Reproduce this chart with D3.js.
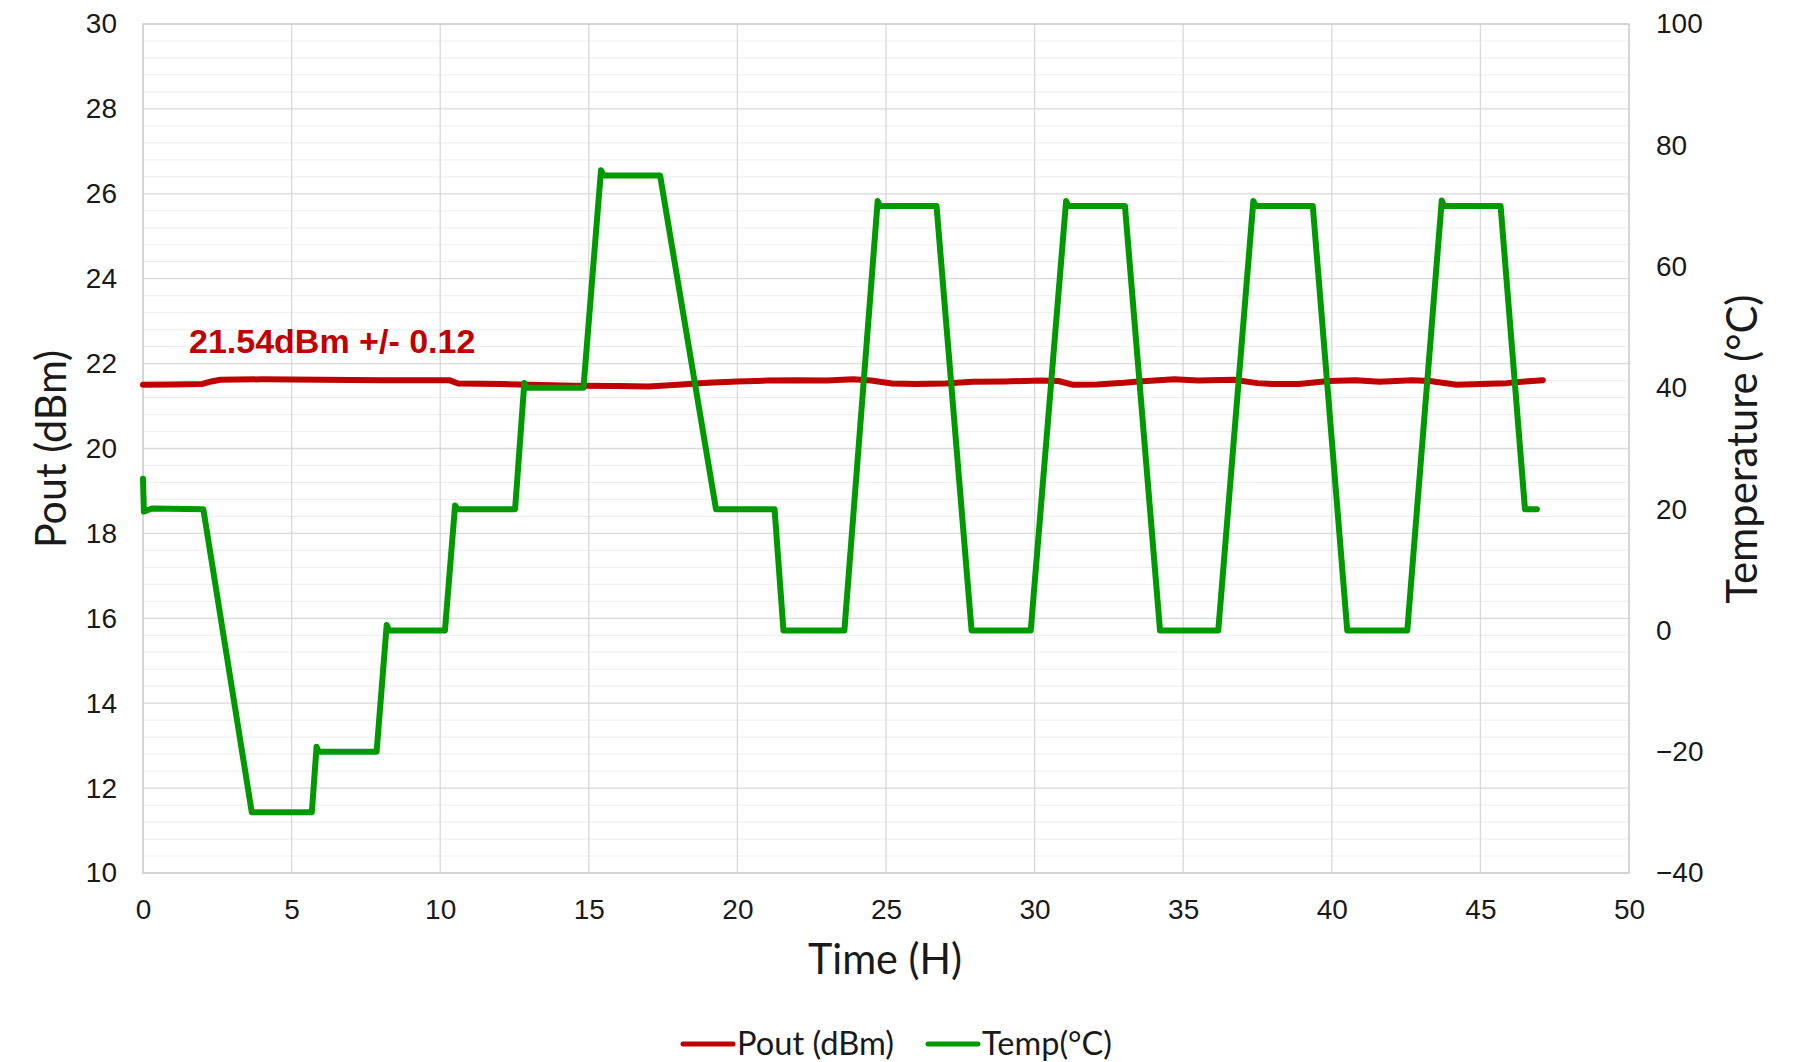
<!DOCTYPE html>
<html>
<head>
<meta charset="utf-8">
<script src="https://cdn.jsdelivr.net/npm/d3@7"></script>
<style>
  html, body { margin: 0; padding: 0; background: #fff; }
  svg { display: block; }
</style>
</head>
<body>
<svg id="chart" width="1795" height="1062"></svg>
<script>
// ---- Data ----
const xTicks = [0, 5, 10, 15, 20, 25, 30, 35, 40, 45, 50];
const leftTicks = [10, 12, 14, 16, 18, 20, 22, 24, 26, 28, 30];
const rightTicks = [-40, -20, 0, 20, 40, 60, 80, 100];

// Temperature (°C) vs time (H)
const tempTime = [0, 0.03, 0.3, 2.03, 3.66, 5.68, 5.84, 5.92, 7.86, 8.2, 8.28, 10.16, 10.5, 10.58, 12.52, 12.83, 12.9, 14.82, 15.41, 15.5, 17.4, 19.28, 21.25, 21.55, 23.6, 24.72, 24.8, 26.7, 27.88, 29.87, 31.06, 31.14, 33.04, 34.22, 36.18, 37.36, 37.44, 39.36, 40.52, 42.54, 43.7, 43.78, 45.68, 46.5, 46.9];
const tempVal  = [25, 19.6, 20.1, 20, -30, -30, -19.2, -20, -20, 0.9, 0, 0, 20.6, 20, 20, 40.8, 40, 40, 75.9, 75, 75, 20, 20, 0, 0, 70.8, 70, 70, 0, 0, 70.8, 70, 70, 0, 0, 70.8, 70, 70, 0, 0, 70.9, 70, 70, 20, 20];

// Pout (dBm) vs time (H)
const poutTime = [0, 1.0, 2.0, 2.3, 2.6, 4, 6, 8, 10.3, 10.6, 12, 13, 14.5, 16, 17, 18, 19, 20, 21, 22, 23, 23.9, 24.5, 25.2, 26, 27, 27.9, 29, 30.2, 30.8, 31.3, 32.1, 33, 33.5, 34.7, 35.5, 36.7, 37.5, 38, 38.9, 39.9, 40.8, 41.6, 42.7, 43.3, 44.2, 45, 45.9, 46.5, 47.1];
const poutVal  = [21.50, 21.51, 21.52, 21.58, 21.62, 21.63, 21.62, 21.61, 21.61, 21.53, 21.52, 21.50, 21.48, 21.47, 21.46, 21.50, 21.55, 21.58, 21.60, 21.61, 21.60, 21.63, 21.60, 21.53, 21.52, 21.53, 21.57, 21.58, 21.60, 21.59, 21.50, 21.51, 21.55, 21.58, 21.63, 21.60, 21.62, 21.54, 21.52, 21.52, 21.59, 21.61, 21.57, 21.61, 21.59, 21.50, 21.52, 21.54, 21.58, 21.61];

const annotation = "21.54dBm +/- 0.12";
const seriesNames = ["Pout (dBm)", "Temp(°C)"];

// ---- Layout ----
const svg = d3.select("#chart");
const L = 143, R = 1629, T = 24, B = 873;
const x = d3.scaleLinear().domain([0, 50]).range([L, R]);
const yL = d3.scaleLinear().domain([10, 30]).range([B, T]);
const yR = d3.scaleLinear().domain([-40, 100]).range([B, T]);

const RED = "#c00000", GREEN = "#009900";
const tickFont = "'Liberation Sans', Arial, sans-serif";
const titleFont = "Lato, 'Open Sans', sans-serif";

// Minor horizontal gridlines (every 0.4 dBm)
const minor = d3.range(10, 30.0001, 0.4).filter(v => Math.abs(v/2 - Math.round(v/2)) > 1e-6);
svg.append("g").selectAll("line").data(minor).join("line")
  .attr("x1", L).attr("x2", R)
  .attr("y1", d => yL(d)).attr("y2", d => yL(d))
  .attr("stroke", "#f0f0f0").attr("stroke-width", 1.2);

// Major horizontal gridlines
svg.append("g").selectAll("line").data(leftTicks).join("line")
  .attr("x1", L).attr("x2", R)
  .attr("y1", d => yL(d)).attr("y2", d => yL(d))
  .attr("stroke", "#d9d9d9").attr("stroke-width", 1.3);

// Vertical gridlines
svg.append("g").selectAll("line").data(xTicks).join("line")
  .attr("x1", d => x(d)).attr("x2", d => x(d))
  .attr("y1", T).attr("y2", B)
  .attr("stroke", "#d9d9d9").attr("stroke-width", 1.3);

// Plot border
svg.append("rect").attr("x", L).attr("y", T).attr("width", R - L).attr("height", B - T)
  .attr("fill", "none").attr("stroke", "#d0d0d0").attr("stroke-width", 1.5);

// Axes (labels only)
function styleAxis(g) {
  g.select(".domain").remove();
  g.selectAll(".tick line").remove();
  g.selectAll(".tick text").attr("font-family", tickFont).attr("font-size", 28).attr("fill", "#1a1a1a");
}
svg.append("g").attr("transform", `translate(${L},0)`)
  .call(d3.axisLeft(yL).tickValues(leftTicks).tickSize(0).tickPadding(26).tickFormat(d3.format("d")))
  .call(styleAxis);
svg.append("g").attr("transform", `translate(${R},0)`)
  .call(d3.axisRight(yR).tickValues(rightTicks).tickSize(0).tickPadding(27).tickFormat(d3.format("d")))
  .call(styleAxis);
svg.append("g").attr("transform", `translate(0,${B})`)
  .call(d3.axisBottom(x).tickValues(xTicks).tickSize(0).tickPadding(26).tickFormat(d3.format("d")))
  .call(styleAxis);

// Lines
const tempData = tempTime.map((t, i) => [t, tempVal[i]]);
const poutData = poutTime.map((t, i) => [t, poutVal[i]]);

svg.append("path").datum(poutData)
  .attr("fill", "none").attr("stroke", RED).attr("stroke-width", 6)
  .attr("stroke-linejoin", "round").attr("stroke-linecap", "round")
  .attr("d", d3.line().x(d => x(d[0])).y(d => yL(d[1])));

svg.append("path").datum(tempData)
  .attr("fill", "none").attr("stroke", GREEN).attr("stroke-width", 6)
  .attr("stroke-linejoin", "round").attr("stroke-linecap", "round")
  .attr("d", d3.line().x(d => x(d[0])).y(d => yR(d[1])));

// Annotation
svg.append("text").attr("x", 189).attr("y", 353)
  .attr("font-family", tickFont).attr("font-weight", "bold").attr("font-size", 34)
  .attr("fill", RED).text(annotation);

// Axis titles
function fitText(sel, w) { sel.attr("textLength", w).attr("lengthAdjust", "spacingAndGlyphs"); }
svg.append("text").attr("transform", "translate(66,449) rotate(-90)")
  .attr("text-anchor", "middle").attr("font-family", titleFont).attr("font-size", 43)
  .attr("fill", "#1a1a1a").text("Pout (dBm)").call(fitText, 198);
svg.append("text").attr("x", 885).attr("y", 974)
  .attr("text-anchor", "middle").attr("font-family", titleFont).attr("font-size", 43)
  .attr("fill", "#1a1a1a").text("Time (H)").call(fitText, 154);
svg.append("text").attr("transform", "translate(1757,449) rotate(-90)")
  .attr("text-anchor", "middle").attr("font-family", titleFont).attr("font-size", 43)
  .attr("fill", "#1a1a1a").text("Temperature (°C)").call(fitText, 309);

// Legend
const legend = [
  {name: seriesNames[0], color: RED, x0: 683, tx: 737, w: 157},
  {name: seriesNames[1], color: GREEN, x0: 928, tx: 982, w: 130}
];
const lg = svg.append("g");
legend.forEach(d => {
  lg.append("line").attr("x1", d.x0).attr("x2", d.x0 + 50).attr("y1", 1044).attr("y2", 1044)
    .attr("stroke", d.color).attr("stroke-width", 5).attr("stroke-linecap", "round");
  lg.append("text").attr("x", d.tx).attr("y", 1055)
    .attr("font-family", titleFont).attr("font-size", 33).attr("fill", "#1a1a1a")
    .text(d.name).call(fitText, d.w);
});
</script>
</body>
</html>
